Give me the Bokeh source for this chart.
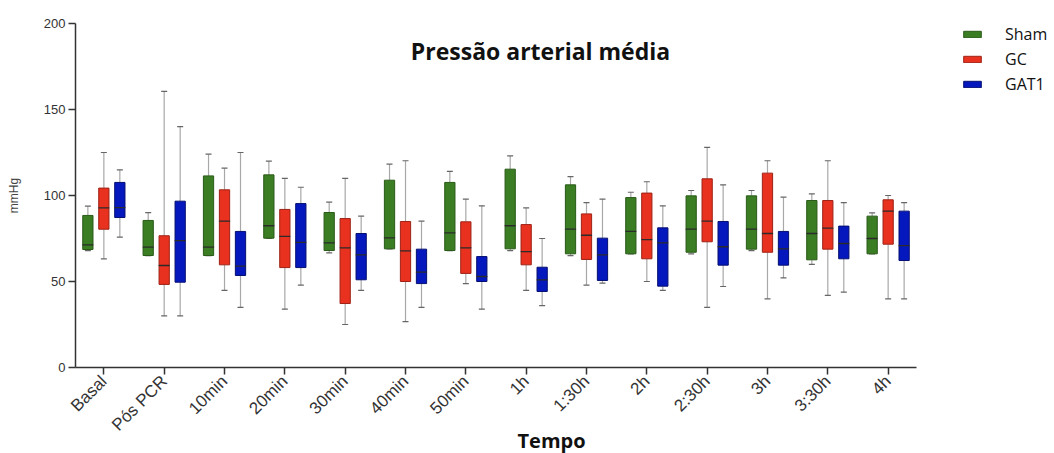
import math
from bokeh.plotting import figure
from bokeh.models import ColumnDataSource, Range1d, Legend, LegendItem, Label, FixedTicker, Title
from bokeh.transform import dodge
from bokeh.embed import file_html
from bokeh.resources import INLINE

categories = ["Basal", "Pós PCR", "10min", "20min", "30min", "40min", "50min",
              "1h", "1:30h", "2h", "2:30h", "3h", "3:30h", "4h"]

sham_min = [68, 65, 65, 75, 66.7, 69, 68, 68, 65.1, 66.1, 66.1, 68, 59.9, 66.1]
sham_q1 = [68.6, 65.1, 65.1, 75.2, 68, 69, 68, 69, 66.1, 66.1, 67, 68.8, 62.6, 66.1]
sham_med = [71.3, 70, 70, 82.4, 72.5, 75.4, 78.3, 82.4, 80.4, 79.1, 80.4, 80.4, 77.9, 75]
sham_q3 = [88.4, 85.5, 111.4, 112, 90.1, 108.9, 107.6, 115.3, 106.2, 98.8, 99.8, 99.8, 97.1, 88]
sham_max = [93.8, 90.1, 124, 120, 96.1, 118.2, 114, 123, 111, 101.9, 102.9, 102.9, 101, 89.9]

gc_min = [63.2, 30, 44.8, 33.9, 25, 26.7, 48.8, 44.8, 47.9, 50, 34.9, 39.9, 41.9, 39.9]
gc_q1 = [80.4, 48.3, 59.7, 58.1, 37.2, 50, 54.7, 59.7, 62.8, 63.2, 73.1, 67, 68.8, 71.7]
gc_med = [92.8, 59.3, 85.1, 76.2, 69.6, 67.8, 69.6, 67.4, 76.9, 74.4, 85.1, 77.9, 81, 90.9]
gc_q3 = [104.3, 76.6, 103.3, 91.9, 86.6, 84.9, 84.7, 83.1, 89.3, 101.4, 109.7, 113, 97.1, 97.5]
gc_max = [125, 160.5, 115.9, 109.9, 109.9, 120.2, 97.9, 92.8, 95.9, 108, 128, 120.2, 120.2, 100]

gat1_min = [75.8, 30, 34.9, 47.9, 44.8, 34.9, 33.9, 36, 49, 44.8, 47.1, 52.1, 43.8, 39.9]
gat1_q1 = [87.2, 49.6, 53.5, 58.1, 51, 48.8, 50, 44.2, 50.6, 47.3, 59.5, 59.5, 63.2, 62.2]
gat1_med = [93, 73.8, 58.9, 72.7, 65.5, 55.4, 52.9, 51, 65.5, 72.5, 70.2, 69, 72.1, 70.9]
gat1_q3 = [107.6, 96.7, 79.1, 95.3, 77.9, 68.8, 64.5, 58.3, 75.2, 81.2, 84.9, 79.1, 82.2, 90.9]
gat1_max = [114.9, 140, 125, 104.8, 88, 85.1, 94, 75, 97.9, 94, 106.2, 99, 95.9, 95.9]

series_names = ["Sham", "GC", "GAT1"]
y_ticks = [0, 50, 100, 150, 200]

groups = [
    (series_names[0], sham_min, sham_q1, sham_med, sham_q3, sham_max, "#3a7d23", "#2a5a18", -0.265),
    (series_names[1], gc_min, gc_q1, gc_med, gc_q3, gc_max, "#e8311f", "#9e2216", 0.0),
    (series_names[2], gat1_min, gat1_q1, gat1_med, gat1_q3, gat1_max, "#0418bd", "#050f70", 0.265),
]

idx = list(range(len(categories)))
pad = 0.47
W, H = 1054, 453
left, top, bottom = 75, 23, 86
axis_px = 916 - 75
unit_px = axis_px / (len(categories) - 1 + 2 * pad)
x_end = -pad + (W - left) / unit_px

p = figure(width=W, height=H, x_range=Range1d(-pad, x_end), y_range=(0, 200),
           output_backend="svg", toolbar_location=None,
           min_border_left=left, min_border_right=0, min_border_top=top, min_border_bottom=bottom)
p.outline_line_color = None
p.grid.grid_line_color = None
p.background_fill_color = "white"

box_w = 0.17
items = []
for name, mn, q1, med, q3, mx, col, edge, off in groups:
    src = ColumnDataSource(dict(x=idx, mn=mn, q1=q1, med=med, q3=q3, mx=mx))
    xd = dodge("x", off, range=p.x_range)
    p.segment(x0=xd, y0="q3", x1=xd, y1="mx", source=src, line_color="#a8a8a8", line_width=1.2)
    p.segment(x0=xd, y0="q1", x1=xd, y1="mn", source=src, line_color="#a8a8a8", line_width=1.2)
    p.scatter(x=xd, y="mx", source=src, marker="dash", size=6, line_color="#666666", line_width=1.2)
    p.scatter(x=xd, y="mn", source=src, marker="dash", size=6, line_color="#666666", line_width=1.2)
    r = p.vbar(x=xd, top="q3", bottom="q1", width=box_w, source=src,
               fill_color=col, line_color=edge, line_width=1)
    p.rect(x=xd, y="med", width=box_w, height=0.01, height_units="screen", source=src,
           fill_color=None, line_color="#2b2b2b", line_width=1.3)
    items.append(LegendItem(label=name, renderers=[r]))

legend = Legend(items=items, location=(886, 272), padding=0, margin=0, spacing=3,
                glyph_width=22, glyph_height=8, label_standoff=22, label_height=20,
                label_text_font="Open Sans", label_text_font_size="16px", label_text_color="#111111",
                border_line_color=None, background_fill_alpha=0)
p.add_layout(legend, "center")

# axes
p.xaxis.ticker = FixedTicker(ticks=idx)
p.xaxis.major_label_overrides = {i: c for i, c in zip(idx, categories)}
p.xaxis.bounds = (-pad, len(categories) - 1 + pad)
p.xaxis.minor_tick_line_color = None
p.yaxis.ticker = FixedTicker(ticks=y_ticks)
p.yaxis.minor_tick_line_color = None
for ax in (p.xaxis[0], p.yaxis[0]):
    ax.axis_line_color = "#333333"
    ax.axis_line_width = 1.5
    ax.major_tick_line_color = "#333333"
    ax.major_tick_line_width = 1.5
    ax.major_tick_out = 7
    ax.major_tick_in = 0
    ax.major_label_text_font = "Liberation Sans"
    ax.major_label_text_color = "#333333"
p.yaxis.major_label_text_font_size = "13px"
p.yaxis.major_label_standoff = 3
p.yaxis.axis_label = "mmHg"
p.yaxis.axis_label_text_font = "Liberation Sans"
p.yaxis.axis_label_text_font_style = "normal"
p.yaxis.axis_label_text_font_size = "12px"
p.yaxis.axis_label_standoff = 20
p.xaxis.major_label_orientation = math.pi / 4
p.xaxis.major_label_text_font_size = "17px"
p.xaxis.major_label_standoff = 4

p.add_layout(Label(x=465, y=184, x_units="screen", y_units="data", text="Pressão arterial média",
                   text_font="Open Sans", text_font_style="bold", text_font_size="23px",
                   text_align="center", text_baseline="middle", text_color="#111111"))
p.add_layout(Title(text="Tempo", align="left", vertical_align="top", offset=442, standoff=-35,
                   text_font="Open Sans", text_font_style="bold", text_font_size="20px",
                   text_color="#111111"), "below")

open("out.html", "w").write(file_html(p, INLINE))
